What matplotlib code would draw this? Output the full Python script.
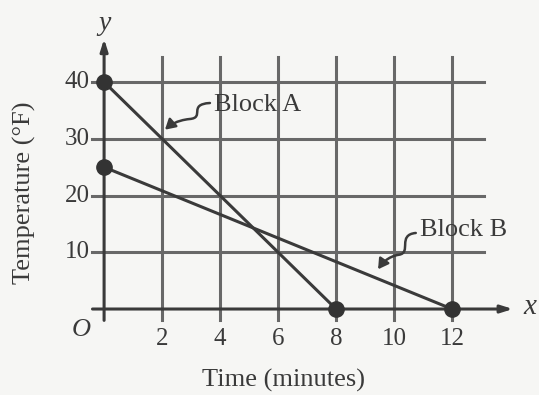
import matplotlib.pyplot as plt
from matplotlib.patches import FancyArrowPatch
from matplotlib.path import Path

# cooling of two blocks
block_a_time = [0, 8]
block_a_temp = [40, 0]
block_b_time = [0, 12]
block_b_temp = [25, 0]

x_ticks = [2, 4, 6, 8, 10, 12]
y_ticks = [10, 20, 30, 40]

plt.rcParams['font.family'] = ['Liberation Serif', 'DejaVu Serif']

fig = plt.figure(figsize=(5.39, 3.95), dpi=100)
fig.patch.set_facecolor('#f6f6f4')
ax = fig.add_axes([0, 0, 1, 1])
ax.set_facecolor('#f6f6f4')
ax.set_xlim(-3.59, 15.0)
ax.set_ylim(-15.15, 54.45)
ax.axis('off')

grid_c = '#686868'
ink = '#3a3a3a'

# grid lines, running past the axes as tick marks
for xt in x_ticks:
    ax.plot([xt, xt], [-2.0, 44.4], color=grid_c, lw=2.2, zorder=1)
    ax.text(xt, -3.3, str(xt), ha='center', va='top', fontsize=18, color=ink)
for yt in y_ticks:
    ax.plot([-0.4, 13.1], [yt, yt], color=grid_c, lw=2.2, zorder=1)
    ax.text(-0.5, yt, str(yt), ha='right', va='center', fontsize=18, color=ink)

# axes with arrows
ax.annotate('', xy=(14.1, 0), xytext=(-0.4, 0),
            arrowprops=dict(arrowstyle='-|>,head_length=0.7,head_width=0.22',
                            color=ink, lw=2.2, shrinkA=0, shrinkB=0), zorder=2)
ax.annotate('', xy=(0, 47.6), xytext=(0, -2.0),
            arrowprops=dict(arrowstyle='-|>,head_length=0.7,head_width=0.22',
                            color=ink, lw=2.2, shrinkA=0, shrinkB=0), zorder=2)
ax.text(14.45, 0.3, 'x', style='italic', fontsize=21, ha='left', va='center', color=ink)
ax.text(0, 50.3, 'y', style='italic', fontsize=20, ha='center', va='center', color=ink)
ax.text(-0.45, -1.8, 'O', style='italic', fontsize=19, ha='right', va='top', color=ink)

# the two lines
ax.plot(block_a_time, block_a_temp, color=ink, lw=2.2, marker='o', ms=11,
        markerfacecolor='#333333', markeredgecolor='#333333', zorder=3, clip_on=False)
ax.plot(block_b_time, block_b_temp, color=ink, lw=2.2, marker='o', ms=11,
        markerfacecolor='#333333', markeredgecolor='#333333', zorder=3, clip_on=False)

# labels with wavy leaders
ax.text(3.78, 36.0, 'Block A', fontsize=19, ha='left', va='center', color=ink)
ax.text(10.9, 13.9, 'Block B', fontsize=19, ha='left', va='center', color=ink)


def wavy(start, end):
    sx, sy = start
    ex, ey = end
    dx, dy = ex - sx, ey - sy
    verts = [(sx, sy),
             (sx + dx * 0.5, sy + dy * 0.05),
             (sx + dx * 0.1, sy + dy * 0.55),
             (sx + dx * 0.45, sy + dy * 0.6),
             (sx + dx * 0.75, sy + dy * 0.65),
             (sx + dx * 0.9, sy + dy * 0.85),
             (ex, ey)]
    codes = [Path.MOVETO] + [Path.CURVE4] * 6
    p = FancyArrowPatch(path=Path(verts, codes),
                        arrowstyle='-|>,head_length=6,head_width=3.5',
                        color=ink, lw=1.8, zorder=4)
    ax.add_patch(p)


wavy((3.65, 36.3), (2.1, 31.6))
wavy((10.75, 13.4), (9.45, 7.0))

ax.text(-2.75, 20.5, 'Temperature (°F)', rotation=90, fontsize=19,
        ha='center', va='center', color=ink)
ax.text(6.2, -12.5, 'Time (minutes)', fontsize=19, ha='center', va='center', color=ink)

fig.savefig('out.png', dpi=100, facecolor=fig.get_facecolor())
